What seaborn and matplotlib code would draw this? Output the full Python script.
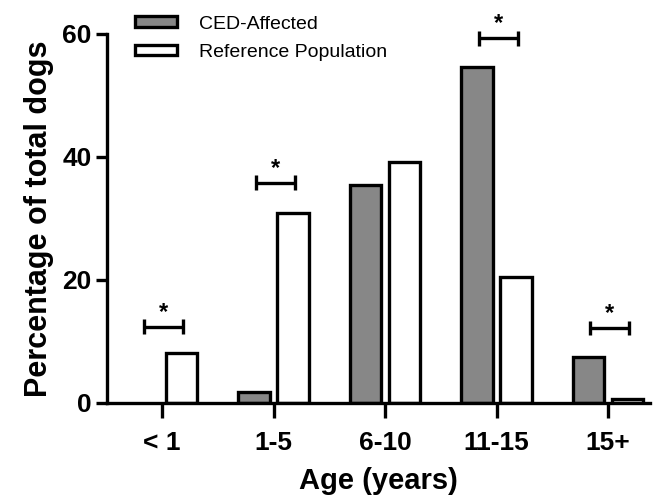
import pandas as pd
import matplotlib
matplotlib.use("Agg")
import matplotlib.pyplot as plt
import seaborn as sns
from matplotlib.patches import Patch

# values
ages = ["< 1", "1-5", "6-10", "11-15", "15+"]
ced_affected = [0, 1.8, 35.4, 54.7, 7.5]
reference_pop = [8.1, 30.9, 39.2, 20.5, 0.6]

# significance brackets: category index and bracket height
sig_idx = [0, 1, 3, 4]
sig_y = [12.4, 35.8, 59.3, 12.2]

groups = ["CED-Affected", "Reference Population"]
colors = {"CED-Affected": "#878787", "Reference Population": "white"}

df = pd.DataFrame({
    "age": ages * 2,
    "pct": ced_affected + reference_pop,
    "group": [groups[0]] * len(ages) + [groups[1]] * len(ages),
})

sns.set_style("ticks")
plt.rcParams["font.family"] = ["Liberation Sans", "DejaVu Sans"]
plt.rcParams["text.color"] = "black"
plt.rcParams["axes.labelcolor"] = "black"
plt.rcParams["xtick.color"] = "black"
plt.rcParams["ytick.color"] = "black"
plt.rcParams["axes.edgecolor"] = "black"

fig = plt.figure(figsize=(6.54, 4.98), dpi=100)
ax = fig.add_axes([0.1636, 0.1908, 0.831, 0.741])

sns.barplot(data=df, x="age", y="pct", hue="group", order=ages,
            hue_order=groups, palette=colors, edgecolor="black",
            linewidth=2.4, width=0.7, gap=0.2, legend=False, ax=ax)

# a zero-height bar is not drawn in the original
for p in ax.patches:
    if p.get_height() == 0:
        p.set_visible(False)

# significance brackets with stars
for i, y in zip(sig_idx, sig_y):
    x0, x1 = i - 0.16, i + 0.19
    ax.plot([x0, x1], [y, y], color="black", lw=2.4, clip_on=False,
            solid_capstyle="butt")
    for xe in (x0, x1):
        ax.plot([xe, xe], [y - 1.2, y + 1.2], color="black", lw=2.4,
                clip_on=False, solid_capstyle="butt")
    ax.text((x0 + x1) / 2, y + 0.5, "*", ha="center", va="bottom",
            fontsize=17, fontweight="bold", clip_on=False)

ax.set_xlim(-0.493, 4.38)
ax.set_ylim(0, 60)
ax.set_yticks([0, 20, 40, 60])
sns.despine(ax=ax)
for s in ("left", "bottom"):
    ax.spines[s].set_linewidth(2.4)
ax.tick_params(axis="both", width=2.4, length=8, labelsize=19)
ax.tick_params(axis="x", length=11, pad=9)
ax.tick_params(axis="y", pad=3)
for lab in ax.get_xticklabels() + ax.get_yticklabels():
    lab.set_fontweight("bold")

ax.set_xlabel("Age (years)", fontsize=21, fontweight="bold", labelpad=9)
ax.set_ylabel("Percentage of total dogs", fontsize=22, fontweight="bold",
              labelpad=6)

handles = [Patch(facecolor=colors[g], edgecolor="black", linewidth=2.4)
           for g in groups]
fig.legend(handles, groups, loc="upper left", bbox_to_anchor=(0.179, 1.004),
           frameon=False, fontsize=14, handlelength=2.2, handleheight=0.45,
           handletextpad=1.1, labelspacing=0.6)

fig.savefig("out.png", dpi=100)
